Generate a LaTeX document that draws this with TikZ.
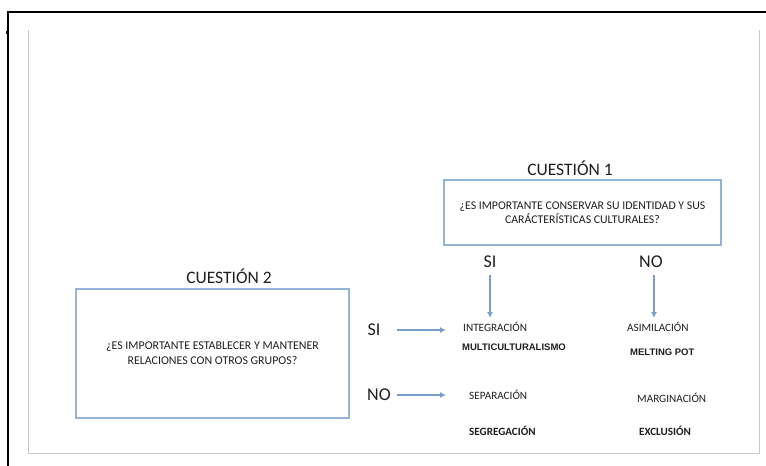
\documentclass[tikz,border=0pt]{standalone}
\usepackage{fontspec}
\setmainfont{Carlito}
\newfontfamily\arialfont{Liberation Sans}
\usepackage{xcolor}
\definecolor{boxblue}{RGB}{149,179,215}
\definecolor{arrowblue}{RGB}{120,158,205}
\definecolor{framegray}{RGB}{200,200,200}
\definecolor{txt}{RGB}{30,30,30}
\usetikzlibrary{positioning}
\usetikzlibrary{arrows.meta}

\tikzset{
  question/.style={draw=boxblue,line width=1.2pt,align=center,text=txt},
  title/.style={text=txt,font=\fontsize{17.5}{20}\selectfont},
  answer/.style={text=txt,font=\fontsize{18}{20}\selectfont},
  result/.style={text=txt,font=\fontsize{11.2}{13}\selectfont,anchor=west,inner sep=0pt},
  tag/.style={text=txt,font=\arialfont\bfseries\fontsize{9.5}{11}\selectfont,anchor=west,inner sep=0pt},
  tagc/.style={text=txt,font=\bfseries\fontsize{11.1}{13}\selectfont,anchor=west,inner sep=0pt},
  flow/.style={draw=arrowblue,line width=1.3pt,-{Latex[length=6pt,width=6pt]}}
}

\begin{document}
\begin{tikzpicture}[x=1pt,y=-1pt]
\useasboundingbox (0,0) rectangle (766,466);
% frames of the screenshot
\draw[line width=2pt] (766,12) -- (8,12) -- (8,466);
\fill (6,31) rectangle (9,34);
\draw[framegray,line width=0.8pt] (28,30) -- (28,453) -- (759,453) -- (759,30);

% question 1
\node[question,minimum width=277pt,minimum height=65pt,font=\fontsize{11.8}{14}\selectfont] (q1) at (582.5,212.5) {¿ES IMPORTANTE CONSERVAR SU IDENTIDAD Y SUS\\CARÁCTERÍSTICAS CULTURALES?};
\node[title] (t1) at (570,168) {CUESTIÓN 1};
\node[answer] (si1) at (490,262) {SI};
\node[answer] (no1) at (651,262) {NO};

% question 2
\node[question,minimum width=273pt,minimum height=129pt,font=\fontsize{11.9}{15}\selectfont] (q2) at (212.5,353.5) {¿ES IMPORTANTE ESTABLECER Y MANTENER\\RELACIONES CON OTROS GRUPOS?};
\node[title] (t2) at (229,276) {CUESTIÓN 2};
\node[answer] (si2) at (374,330) {SI};
\node[answer] (no2) at (379,395) {NO};

% results
\node[result] (integ) at (463,327) {INTEGRACIÓN};
\node[tag] (multi) at (462,347) {MULTICULTURALISMO};
\node[result] (asim) at (627,327) {ASIMILACIÓN};
\node[tag] (melt) at (630,352) {MELTING POT};
\node[result] (separ) at (469,395) {SEPARACIÓN};
\node[result] (margi) at (637,398) {MARGINACIÓN};
\node[tagc] (segre) at (469,431) {SEGREGACIÓN};
\node[tagc] (exclu) at (639,431) {EXCLUSIÓN};

% arrows
\coordinate (a1) at (490,318);
\coordinate (a2) at (654,318);
\coordinate (a3) at (446,330);
\coordinate (a4) at (446,395);
\draw[flow] (490,275) -- (a1);
\draw[flow] (654,275) -- (a2);
\draw[flow] (397,330) -- (a3);
\draw[flow] (397,395) -- (a4);
\end{tikzpicture}
\end{document}
